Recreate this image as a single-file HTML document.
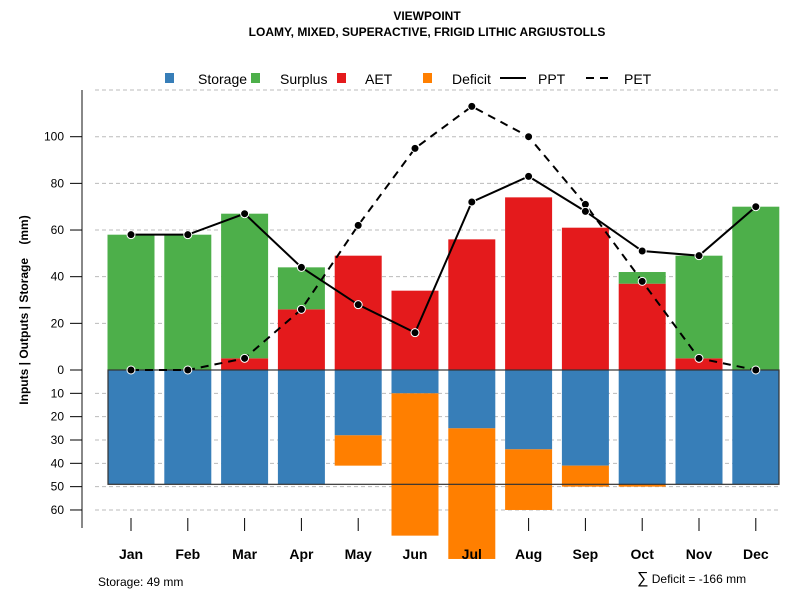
<!DOCTYPE html>
<html><head><meta charset="utf-8"><style>
body{margin:0;background:#fff;}
svg text{font-family:"Liberation Sans",sans-serif;}
</style></head><body>
<svg id="chart" width="800" height="600" xmlns="http://www.w3.org/2000/svg">
<text x="427" y="20" text-anchor="middle" font-size="12" font-weight="bold">VIEWPOINT</text>
<text x="427" y="36" text-anchor="middle" font-size="12" font-weight="bold">LOAMY, MIXED, SUPERACTIVE, FRIGID LITHIC ARGIUSTOLLS</text>
<g id="grid"></g>
<g id="ticks"></g>
<g id="bars"></g>
<g id="lines"></g>
<g id="axes"></g>
<g font-size="14">
<rect x="165" y="73" width="9" height="10" fill="#377EB8"/>
<text x="198" y="84">Storage</text>
<rect x="251" y="73" width="9" height="10" fill="#4DAF4A"/>
<text x="280" y="84">Surplus</text>
<rect x="337" y="73" width="9" height="10" fill="#E41A1C"/>
<text x="365" y="84">AET</text>
<rect x="423" y="73" width="9" height="10" fill="#FF7F00"/>
<text x="452" y="84">Deficit</text>
<line x1="500" y1="78" x2="526" y2="78" stroke="#000" stroke-width="2"/>
<text x="538" y="84">PPT</text>
<line x1="586" y1="78" x2="609" y2="78" stroke="#000" stroke-width="2" stroke-dasharray="8,6"/>
<text x="624" y="84">PET</text>
</g>
<text x="98" y="586" font-size="12">Storage: 49 mm</text>
<text x="637" y="583" font-size="12"><tspan font-size="16">∑</tspan> Deficit = -166 mm</text>
<text transform="translate(28,310) rotate(-90)" text-anchor="middle" font-size="12" font-weight="bold" xml:space="preserve" style="white-space:pre">Inputs | Outputs | Storage    (mm)</text>
</svg>
<script>
const months=["Jan","Feb","Mar","Apr","May","Jun","Jul","Aug","Sep","Oct","Nov","Dec"];
const aet=[0,0,5,26,49,34,56,74,61,37,5,0];
const surplus=[58,58,62,18,0,0,0,0,0,5,44,70];
const storage=[49,49,49,49,28,10,25,34,41,49,49,49];
const deficit=[0,0,0,0,13,61,56,26,9,1,0,0];
const ppt=[58,58,67,44,28,16,72,83,68,51,49,70];
const pet=[0,0,5,26,62,95,113,100,71,38,5,0];
const upTicks=[0,20,40,60,80,100];
const downTicks=[10,20,30,40,50,60];
const gridUp=[20,40,60,80,100,120];
const capacity=49;

const NS="http://www.w3.org/2000/svg";
const y0=370,k=2.333;
const yUp=v=>y0-v*k, yDn=v=>y0+v*k;
const xC=i=>131+i*56.8, bw=47;
function mk(tag,attrs,parent){const e=document.createElementNS(NS,tag);for(const a in attrs)e.setAttribute(a,attrs[a]);document.getElementById(parent).appendChild(e);return e;}
gridUp.forEach(v=>{const l=mk('line',{x1:95,x2:780,y1:yUp(v),y2:yUp(v),stroke:'#bbb','stroke-dasharray':'4,3'},'grid');

});
downTicks.forEach(v=>{const l=mk('line',{x1:95,x2:780,y1:yDn(v),y2:yDn(v),stroke:'#bbb','stroke-dasharray':'4,3'},'grid');

});
months.forEach((m,i)=>{
 const x=xC(i)-bw/2;
 let r=mk('rect',{x:x,y:yUp(aet[i]),width:bw,height:aet[i]*k,fill:'#E41A1C'},'bars');
 
 
 r=mk('rect',{x:x,y:yUp(aet[i]+surplus[i]),width:bw,height:surplus[i]*k,fill:'#4DAF4A'},'bars');
 
 
 r=mk('rect',{x:x,y:y0,width:bw,height:storage[i]*k,fill:'#377EB8'},'bars');
 
 
 r=mk('rect',{x:x,y:yDn(storage[i]),width:bw,height:deficit[i]*k,fill:'#FF7F00'},'bars');
 
 
 const t=mk('line',{x1:xC(i),x2:xC(i),y1:518,y2:531,stroke:'#000'},'ticks');
 
 
 const tx=mk('text',{x:xC(i),y:559,'text-anchor':'middle','font-size':14,'font-weight':'bold'},'axes');
 tx.textContent=m;
 
 
});
let box=mk('rect',{x:108,y:y0,width:671,height:capacity*k,fill:'none',stroke:'#333','stroke-width':1.2},'bars');


function series(vals,dash,name){
 const p=vals.map((v,i)=>xC(i)+','+yUp(v)).join(' ');
 const pl=mk('polyline',{points:p,fill:'none',stroke:'#000','stroke-width':2,'stroke-dasharray':dash},'lines');
 
 
 vals.forEach((v,i)=>{const c=mk('circle',{cx:xC(i),cy:yUp(v),r:4,fill:'#000',stroke:'#fff','stroke-width':1},'lines');
 
 });
}
series(pet,'8,6','pet');
series(ppt,'none','ppt');
let ax=mk('line',{x1:82,x2:82,y1:90,y2:528,stroke:'#888','stroke-width':2},'axes');


upTicks.forEach(v=>{const t=mk('line',{x1:70,x2:82,y1:yUp(v),y2:yUp(v),stroke:'#000'},'axes');


const tx=mk('text',{x:64,y:yUp(v)+4,'text-anchor':'end','font-size':12},'axes');tx.textContent=v;

});
downTicks.forEach(v=>{const t=mk('line',{x1:70,x2:82,y1:yDn(v),y2:yDn(v),stroke:'#000'},'axes');


const tx=mk('text',{x:64,y:yDn(v)+4,'text-anchor':'end','font-size':12},'axes');tx.textContent=v;

});
</script>
</body></html>
